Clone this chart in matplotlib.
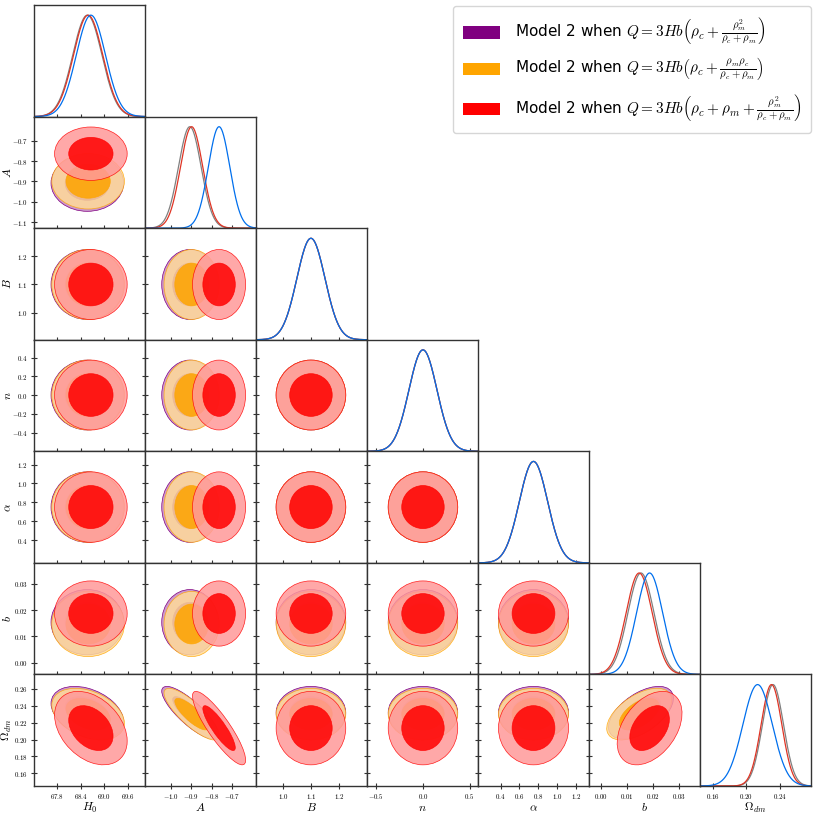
import numpy as np
import matplotlib
matplotlib.use('Agg')
import matplotlib.pyplot as plt
from matplotlib.patches import Ellipse, Patch

plt.rcParams['mathtext.fontset'] = 'cm'

# parameter names / axis labels
labels = [r'$H_0$', r'$A$', r'$B$', r'$n$', r'$\alpha$', r'$b$', r'$\Omega_{dm}$']

# axis ranges
limits = [(67.22, 70.03), (-1.13, -0.58), (0.904, 1.30), (-0.60, 0.59),
          (0.16, 1.34), (-0.0045, 0.038), (0.145, 0.277)]

# x ticks (bottom row) and y ticks (first column)
xticks = [[67.8, 68.4, 69.0, 69.6], [-1.0, -0.9, -0.8, -0.7], [1.0, 1.1, 1.2],
          [-0.5, 0.0, 0.5], [0.4, 0.6, 0.8, 1.0, 1.2], [0.00, 0.01, 0.02, 0.03],
          [0.16, 0.20, 0.24]]
xtick_labels = [['67.8', '68.4', '69.0', '69.6'], ['-1.0', '-0.9', '-0.8', '-0.7'],
                ['1.0', '1.1', '1.2'], ['-0.5', '0.0', '0.5'],
                ['0.4', '0.6', '0.8', '1.0', '1.2'], ['0.00', '0.01', '0.02', '0.03'],
                ['0.16', '0.20', '0.24']]
yticks = [[], [-1.1, -1.0, -0.9, -0.8, -0.7], [1.0, 1.1, 1.2],
          [-0.4, -0.2, 0.0, 0.2, 0.4], [0.4, 0.6, 0.8, 1.0, 1.2],
          [0.00, 0.01, 0.02, 0.03], [0.16, 0.18, 0.20, 0.22, 0.24, 0.26]]
ytick_labels = [[], ['-1.1', '-1.0', '-0.9', '-0.8', '-0.7'], ['1.0', '1.1', '1.2'],
                ['-0.4', '-0.2', '0.0', '0.2', '0.4'], ['0.4', '0.6', '0.8', '1.0', '1.2'],
                ['0.00', '0.01', '0.02', '0.03'], ['0.16', '0.18', '0.20', '0.22', '0.24', '0.26']]

# posterior summaries per model: means, sigmas, correlations (H0, A, B, n, alpha, b, Om)
mean_purple = [68.57, -0.908, 1.100, 0.00, 0.75, 0.0154, 0.2318]
mean_orange = [68.59, -0.899, 1.100, 0.00, 0.75, 0.0147, 0.2300]
mean_red = [68.66, -0.763, 1.100, 0.00, 0.75, 0.0187, 0.2135]

sigma_purple = [0.37, 0.056, 0.050, 0.150, 0.150, 0.0050, 0.0125]
sigma_orange = [0.37, 0.055, 0.050, 0.150, 0.150, 0.0050, 0.0123]
sigma_red = [0.37, 0.053, 0.050, 0.150, 0.150, 0.0050, 0.0175]

corr_purple = {(0, 6): -0.35, (1, 6): -0.82, (5, 6): 0.55}
corr_orange = {(0, 6): -0.35, (1, 6): -0.82, (5, 6): 0.55}
corr_red = {(0, 6): -0.35, (1, 6): -0.87, (5, 6): 0.40}

legend_labels = [
    r'Model 2 when $Q=3Hb\left(\rho_c+\frac{\rho_m^2}{\rho_c+\rho_m}\right)$',
    r'Model 2 when $Q=3Hb\left(\rho_c+\frac{\rho_m\rho_c}{\rho_c+\rho_m}\right)$',
    r'Model 2 when $Q=3Hb\left(\rho_c+\rho_m+\frac{\rho_m^2}{\rho_c+\rho_m}\right)$',
]

models = [
    dict(mean=mean_purple, sigma=sigma_purple, corr=corr_purple, fill='#800080', line='#808080', alpha=1.0),
    dict(mean=mean_orange, sigma=sigma_orange, corr=corr_orange, fill='#FFA500', line='#E03424', alpha=0.85),
    dict(mean=mean_red, sigma=sigma_red, corr=corr_red, fill='#FF0000', line='#006FED', alpha=0.85),
]

spine_col = '#333333'
npar = len(labels)


def pale(c, f=0.6):
    rgb = np.array(matplotlib.colors.to_rgb(c))
    return tuple(rgb * (1 - f) + f)


def add_ellipse(ax, m, j, i, level, face, alpha):
    sx, sy = m['sigma'][j], m['sigma'][i]
    rho = m['corr'].get((min(i, j), max(i, j)), 0.0)
    cov = np.array([[sx**2, rho * sx * sy], [rho * sx * sy, sy**2]])
    vals, vecs = np.linalg.eigh(cov)
    ang = np.degrees(np.arctan2(vecs[1, 1], vecs[0, 1]))
    e = Ellipse((m['mean'][j], m['mean'][i]), 2 * np.sqrt(level * vals[1]),
                2 * np.sqrt(level * vals[0]), angle=ang,
                facecolor=face, edgecolor=m['fill'], lw=0.5, alpha=alpha)
    ax.add_patch(e)


fig, axes = plt.subplots(npar, npar, figsize=(8.17, 8.17), dpi=100)
fig.subplots_adjust(left=34 / 817, right=811 / 817, top=1 - 5 / 817,
                    bottom=1 - 786 / 817, wspace=0, hspace=0)

for i in range(npar):
    for j in range(npar):
        ax = axes[i, j]
        if j > i:
            ax.set_visible(False)
            continue
        for s in ax.spines.values():
            s.set_color(spine_col)
            s.set_linewidth(1.0)
        ax.tick_params(direction='inout', length=5, width=0.8, color=spine_col,
                       labelsize=5, pad=2)
        ax.set_xlim(limits[j])
        ax.set_xticks(xticks[j], ['$%s$' % t for t in xtick_labels[j]])
        if i == j:
            xs = np.linspace(limits[j][0], limits[j][1], 400)
            for m in models:
                ys = np.exp(-0.5 * ((xs - m['mean'][j]) / m['sigma'][j]) ** 2)
                ax.plot(xs, ys, color=m['line'], lw=0.9)
            ax.set_ylim(0, 1.1)
            ax.set_yticks([])
        else:
            ax.set_ylim(limits[i])
            ax.set_yticks(yticks[i], ['$%s$' % t for t in ytick_labels[i]])
            for m in models:
                add_ellipse(ax, m, j, i, 6.17, pale(m['fill']), m['alpha'])
                add_ellipse(ax, m, j, i, 2.30, m['fill'], m['alpha'])
        if i == npar - 1:
            ax.set_xlabel(labels[j], fontsize=8.5)
            ax.xaxis.set_label_coords(0.5, -0.135)
        else:
            ax.tick_params(labelbottom=False)
        if j == 0 and i > 0:
            ax.set_ylabel(labels[i], fontsize=8.5)
            ax.yaxis.set_label_coords(-0.18, 0.5)
        else:
            ax.tick_params(labelleft=False)

handles = [Patch(facecolor=m['fill'], edgecolor='none') for m in models]
fig.legend(handles, legend_labels, loc='upper right',
           bbox_to_anchor=(811 / 817, 1 - 6 / 817), fontsize=11,
           handlelength=2.4, handleheight=0.85, labelspacing=0.6,
           borderpad=0.65, handletextpad=1.0, borderaxespad=0)

fig.savefig('out.png', dpi=100)
